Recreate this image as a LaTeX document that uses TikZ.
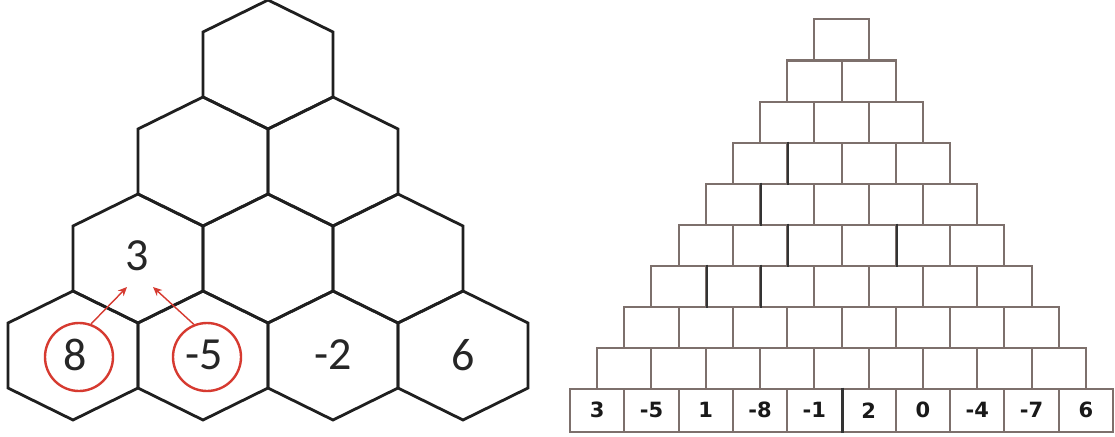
\documentclass[tikz,border=0pt]{standalone}
\usepackage{fontspec}
\setmainfont{Carlito}
\newfontfamily\boxfont{DejaVu Sans}
\usetikzlibrary{arrows.meta}
\definecolor{redc}{RGB}{214,58,48}
\definecolor{boxgray}{RGB}{125,112,108}
\tikzset{
  hexline/.style={line width=2.8pt, draw=black!88},
  hexagon/.pic={\draw[hexline] (0,-64.5) -- (65,-32.5) -- (65,32.5) -- (0,64.5) -- (-65,32.5) -- (-65,-32.5) -- cycle;},
  hexnum/.style={font=\fontsize{46}{46}\selectfont, text=black!85, inner sep=0pt},
  redcirc/.style={circle, draw=redc, line width=2.4pt, minimum size=68pt, inner sep=0pt},
  redarrow/.style={draw=redc, line width=1.4pt, -{Stealth[length=9pt,width=8pt]}},
  pbox/.style={rectangle, draw=boxgray, line width=2pt, minimum width=54.3pt, minimum height=41pt, inner sep=0pt},
  boxnum/.style={font=\boxfont\bfseries\fontsize{21}{21}\selectfont, text=black!90},
  darkline/.style={draw=black!80, line width=2.2pt}
}
\begin{document}
\begin{tikzpicture}[x=1pt,y=-1pt]
\useasboundingbox (0,0) rectangle (1115,436);
\fill[white] (0,0) rectangle (1115,436);
% hexagon pyramid
\foreach \k in {0,...,3}{
  \foreach \j in {0,...,\k}{
    \pic at ({268-65*\k+130*\j},{97*\k+64.5}) {hexagon};
  }
}
% numbers
\node[hexnum] (n3) at (137,256) {3};
\node[hexnum] (n8) at (75,355) {8};
\node[hexnum] (nm5) at (204,355) {-5};
\node[hexnum] (nm2) at (333,355) {-2};
\node[hexnum] (n6) at (463,355) {6};
% red circles and arrows
\node[redcirc] (c8) at (79,357) {};
\node[redcirc] (cm5) at (207,357) {};
\coordinate (a1) at (127,287);
\coordinate (a2) at (153,287);
\draw[redarrow] (c8.70) -- (a1);
\draw[redarrow] (cm5.112) -- (a2);
% brick pyramid
\foreach \r in {1,...,9}{
  \foreach \i in {1,...,\r}{
    \node[pbox] (b-\r-\i) at ({841.5+(\i-(\r+1)/2)*54.3},{40+41*(\r-1)}) {};
  }
}
\foreach \v [count=\i] in {3,-5,1,-8,-1,2,0,-4,-7,6}{
  \node[pbox, minimum height=43.5pt, boxnum] (b-10-\i) at ({841.5+(\i-5.5)*54.3},410.25) {\v};
}
% darker dividers
\draw[darkline] (b-4-1.north east) -- (b-4-1.south east);
\draw[darkline] (b-5-1.north east) -- (b-5-1.south east);
\draw[darkline] (b-6-2.north east) -- (b-6-2.south east);
\draw[darkline] (b-6-4.north east) -- (b-6-4.south east);
\draw[darkline] (b-7-1.north east) -- (b-7-1.south east);
\draw[darkline] (b-7-2.north east) -- (b-7-2.south east);
\draw[darkline] (b-10-5.north east) -- (b-10-5.south east);
\end{tikzpicture}
\end{document}
